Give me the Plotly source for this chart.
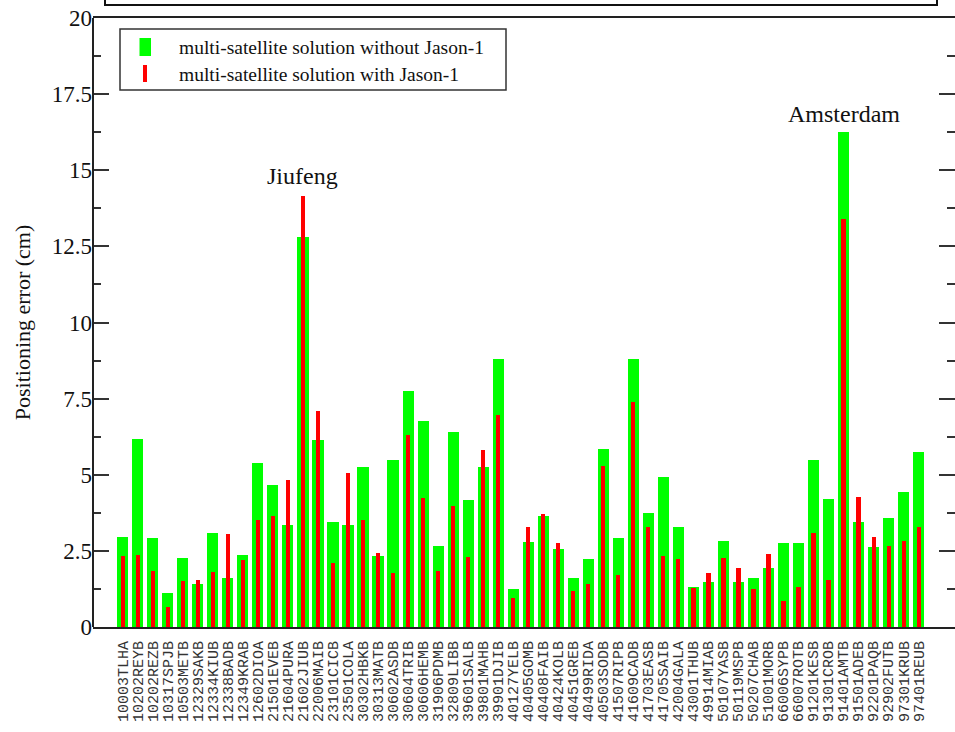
import plotly.graph_objects as go

# DORIS stations and positioning errors (cm)
stations = [
    "10003TLHA", "10202REYB", "10202REZB", "10317SPJB", "10503METB", "12329SAKB",
    "12334KIUB", "12338BADB", "12349KRAB", "12602DIOA", "21501EVEB", "21604PURA",
    "21602JIUB", "22006MAIB", "23101CICB", "23501COLA", "30302HBKB", "30313MATB",
    "30602ASDB", "30604TRIB", "30606HEMB", "31906PDMB", "32809LIBB", "39601SALB",
    "39801MAHB", "39901DJIB", "40127YELB", "40405GOMB", "40408FAIB", "40424KOLB",
    "40451GREB", "40499RIDA", "40503SODB", "41507RIPB", "41609CADB", "41703EASB",
    "41705SAIB", "42004GALA", "43001THUB", "49914MIAB", "50107YASB", "50119MSPB",
    "50207CHAB", "51001MORB", "66006SYPB", "66007ROTB", "91201KESB", "91301CROB",
    "91401AMTB", "91501ADEB", "92201PAQB", "92902FUTB", "97301KRUB", "97401REUB",
]

without_jason1 = [
    2.94, 6.16, 2.91, 1.13, 2.28, 1.42, 3.10, 1.61, 2.38, 5.40, 4.67, 3.34,
    12.8, 6.13, 3.46, 3.35, 5.25, 2.33, 5.48, 7.74, 6.77, 2.67, 6.39, 4.18,
    5.25, 8.81, 1.26, 2.78, 3.65, 2.56, 1.61, 2.24, 5.86, 2.91, 8.81, 3.75,
    4.91, 3.28, 1.31, 1.47, 2.83, 1.49, 1.61, 1.95, 2.75, 2.75, 5.47, 4.19,
    16.27, 3.46, 2.64, 3.57, 4.44, 5.74,
]

with_jason1 = [
    2.34, 2.38, 1.84, 0.66, 1.51, 1.56, 1.80, 3.04, 2.19, 3.53, 3.66, 4.82,
    14.15, 7.09, 2.09, 5.05, 3.53, 2.43, 1.77, 6.31, 4.25, 1.85, 3.97, 2.31,
    5.82, 6.97, 0.96, 3.29, 3.72, 2.75, 1.19, 1.41, 5.30, 1.71, 7.38, 3.29,
    2.33, 2.22, 1.28, 1.77, 2.28, 1.93, 1.24, 2.41, 0.86, 1.31, 3.10, 1.53,
    13.39, 4.27, 2.95, 2.66, 2.81, 3.27,
]

series_names = [
    "multi-satellite solution without Jason-1",
    "multi-satellite solution with Jason-1",
]
y_ticks = [0, 2.5, 5, 7.5, 10, 12.5, 15, 17.5, 20]
y_tick_text = ["0", "2.5", "5", "7.5", "10", "12.5", "15", "17.5", "20"]

GREEN = "#00ff00"
RED = "#ff0000"
SERIF = "Liberation Serif, Times New Roman, serif"

# plot-area geometry in pixels, used to place the hand-made legend
W, H = 955, 732
L, R, T, B = 93, 0, 18, 105
PW, PH = W - L - R, H - T - B


def px(x):
    return (x - L) / PW


def py(y):
    return (H - B - y) / PH


fig = go.Figure()
fig.add_trace(go.Bar(x=stations, y=without_jason1, name=series_names[0],
                     marker=dict(color=GREEN, line=dict(width=0)), width=0.74,
                     showlegend=False))
fig.add_trace(go.Bar(x=stations, y=with_jason1, name=series_names[1],
                     marker=dict(color=RED, line=dict(width=0)), width=0.28,
                     showlegend=False))

# site call-outs
fig.add_annotation(x="21602JIUB", y=14.8, text="Jiufeng", showarrow=False,
                   font=dict(family=SERIF, size=24, color="#111"))
fig.add_annotation(x="91401AMTB", y=16.86, text="Amsterdam", showarrow=False,
                   font=dict(family=SERIF, size=24, color="#111"))

shapes = [
    # frame of the title box above the plot
    dict(type="rect", xref="paper", yref="paper",
         x0=px(105), x1=px(937), y0=py(5), y1=py(-20),
         line=dict(color="#111", width=2), fillcolor="rgba(0,0,0,0)"),
    # left axis line (the right side carries ticks only)
    dict(type="line", xref="paper", yref="paper", x0=0, x1=0, y0=0, y1=1,
         line=dict(color="#222", width=2)),
    # legend box
    dict(type="rect", xref="paper", yref="paper",
         x0=px(120), x1=px(506), y0=py(90), y1=py(29),
         line=dict(color="#333", width=1.5), fillcolor="white"),
    # legend swatches
    dict(type="rect", xref="paper", yref="paper",
         x0=px(139.5), x1=px(151), y0=py(56), y1=py(38),
         line=dict(width=0), fillcolor=GREEN),
    dict(type="rect", xref="paper", yref="paper",
         x0=px(143), x1=px(147), y0=py(82), y1=py(65),
         line=dict(width=0), fillcolor=RED),
]
for name, yc in zip(series_names, [47, 74]):
    fig.add_annotation(xref="paper", yref="paper", x=px(177), y=py(yc),
                       xanchor="left", yanchor="middle", showarrow=False,
                       text=name, font=dict(family=SERIF, size=19.5, color="#111"))

fig.update_layout(
    width=W, height=H,
    margin=dict(l=L, r=R, t=T, b=B, autoexpand=False),
    barmode="overlay",
    bargap=0,
    plot_bgcolor="white",
    paper_bgcolor="white",
    shapes=shapes,
    showlegend=False,
)

fig.update_xaxes(
    type="category",
    range=[-1.98, 55.42],
    tickmode="array",
    tickvals=stations,
    ticktext=stations,
    tickangle=-90,
    tickfont=dict(family="Liberation Mono, Courier New, monospace", size=15, color="#333"),
    ticks="",
    ticklabelstandoff=6,
    showline=True, linecolor="#222", linewidth=2, mirror=True,
    showgrid=False, zeroline=False,
    automargin=False,
)

fig.update_yaxes(
    range=[0, 20],
    tickvals=y_ticks,
    ticktext=y_tick_text,
    ticks="inside", ticklen=16, tickwidth=2, tickcolor="#333",
    minor=dict(dtick=1.25, tick0=0, ticks="inside", ticklen=8, tickwidth=2, tickcolor="#333"),
    tickfont=dict(family=SERIF, size=23, color="#111"),
    title=dict(text="Positioning error (cm)", standoff=15,
               font=dict(family=SERIF, size=22, color="#111")),
    showline=False, mirror="allticks",
    showgrid=False, zeroline=False,
    automargin=False,
)

fig.write_html("out.html")
